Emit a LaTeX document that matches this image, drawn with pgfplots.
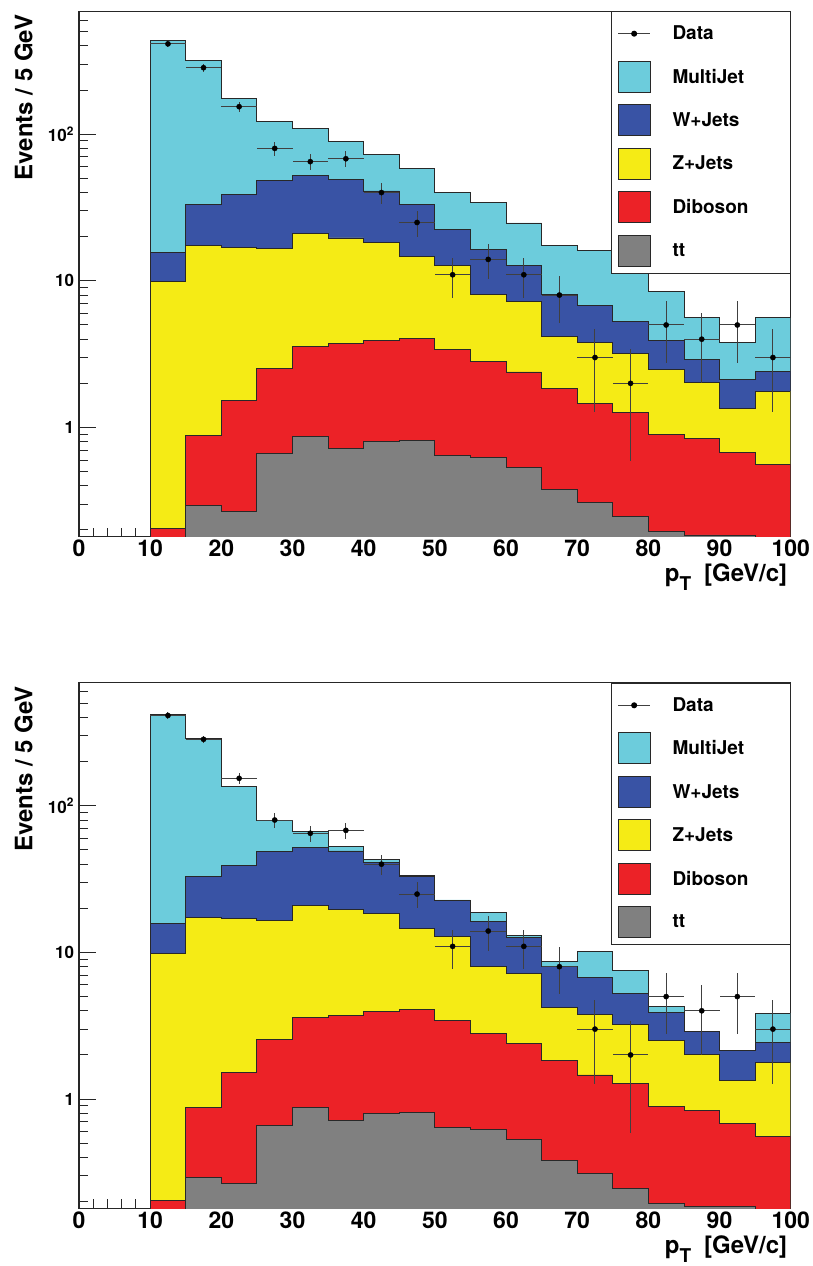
\documentclass[border=0pt]{standalone}
\usepackage{fontspec}
\setmainfont{TeX Gyre Heros}
\usepackage{pgfplots}
\usepackage{pgfplotstable}
\pgfplotsset{compat=1.18}
\definecolor{mjcol}{RGB}{108,204,220}
\definecolor{wcol}{RGB}{57,83,165}
\definecolor{zcol}{RGB}{245,235,21}
\definecolor{dbcol}{RGB}{236,34,39}
\definecolor{ttcol}{RGB}{128,128,128}
\definecolor{edge}{RGB}{40,40,40}
\newcommand\LE[1]{\makebox[111pt][l]{#1}}
\pgfplotsset{
  histo/.style={const plot, draw=edge, line width=0.9pt, fill=#1, forget plot, mark=none},
  sq/.style={legend image code/.code={\draw[fill=#1,draw=edge,line width=0.9pt] (0pt,-15.5pt) rectangle (31.7pt,15.5pt);}},
  dataleg/.style={legend image code/.code={\path[draw=none,fill=none] (0pt,-15.5pt) rectangle (31.7pt,15.5pt); \draw[black!75,line width=1pt] (0pt,0pt) -- (31.7pt,0pt); \fill[black] (15.85pt,0pt) circle (2.5pt);}},
  dataplot/.style={only marks, mark=*, mark size=2.6pt, black, forget plot,
    error bars/x dir=both, error bars/x explicit, error bars/y dir=both, error bars/y explicit,
    error bars/error mark=none,
    error bars/error bar style={line width=1pt, black!75}},
}
\pgfplotsset{
  rootaxis/.style={
    scale only axis, width=711.7pt, height=525.5pt, anchor=south west,
    xmin=0, xmax=100, ymin=0.18, ymax=690,
    xtick={0,10,20,30,40,50,60,70,80,90,100},
    xticklabels={0,10,20,30,40,50,60,70,80,90,100},
    minor x tick num=4,
    ytick={1,10,100}, yticklabels={1,10,10\textsuperscript{2}},
    minor ytick={0.2,0.3,0.4,0.5,0.6,0.7,0.8,0.9,2,3,4,5,6,7,8,9,20,30,40,50,60,70,80,90,200,300,400,500,600},
    tick pos=left, tick align=inside,
    major tick length=17pt, minor tick length=9pt,
    tick style={line width=1pt, draw=black!85},
    axis line style={line width=1.2pt, draw=black!85},
    xticklabel style={font=\bfseries\fontsize{23}{23}\selectfont},
    yticklabel style={font=\bfseries\fontsize{17}{17}\selectfont, xshift=-1.5pt},
    xlabel={p\raisebox{-9pt}{\fontsize{19}{19}\selectfont T}\hspace{13pt}[GeV/c]},
    xlabel style={at={(rel axis cs:1,0)}, anchor=base east, yshift=-45pt, font=\bfseries\fontsize{24}{24}\selectfont},
    ylabel={Events / 5 GeV},
    ylabel style={at={(rel axis cs:0,1)}, anchor=base east, yshift=46.7pt, font=\bfseries\fontsize{24}{24}\selectfont},
    legend style={at={(rel axis cs:1,1)}, anchor=north east, draw=edge, line width=1pt, fill=white,
      font=\bfseries\fontsize{19}{19}\selectfont, inner xsep=6.7pt, inner ysep=6.5pt,
      row sep=11.6pt, column sep=22pt, nodes={inner sep=0pt}},
    legend cell align=left,
  },
}
\pgfplotstableread{
x ex y ey
12.5 2.5 413 20.32
17.5 2.5 284 16.85
22.5 2.5 154 12.41
27.5 2.5 80 8.94
32.5 2.5 65 8.06
37.5 2.5 68 8.25
42.5 2.5 40 6.32
47.5 2.5 25 5.00
52.5 2.5 11 3.32
57.5 2.5 14 3.74
62.5 2.5 11 3.32
67.5 2.5 8 2.83
72.5 2.5 3 1.73
77.5 2.5 2 1.41
82.5 2.5 5 2.24
87.5 2.5 4 2.00
92.5 2.5 5 2.24
97.5 2.5 3 1.73
}\datatab
\begin{document}
\begin{tikzpicture}
\useasboundingbox (0,0) rectangle (813pt,1266pt);
% ---------------- top panel ----------------
\begin{axis}[ymode=log, rootaxis, at={(79pt,729.3pt)}]
\addlegendimage{dataleg}\addlegendentry{\LE{Data}}
\addlegendimage{sq=mjcol}\addlegendentry{\LE{MultiJet}}
\addlegendimage{sq=wcol}\addlegendentry{\LE{W+Jets}}
\addlegendimage{sq=zcol}\addlegendentry{\LE{Z+Jets}}
\addlegendimage{sq=dbcol}\addlegendentry{\LE{Diboson}}
\addlegendimage{sq=ttcol}\addlegendentry{\LE{tt}}
% MultiJet (stack total)
\addplot[histo=mjcol] coordinates {(10,0.1)(10,435)(15,318)(20,174)(25,123)(30,109)(35,89)(40,73)(45,58)(50,40.2)(55,34.4)(60,24.8)(65,17.5)(70,16.2)(75,13.0)(80,8.4)(85,5.6)(90,3.8)(95,5.6)(100,5.6)(100,0.1)};
% W+Jets
\addplot[histo=wcol] coordinates {(10,0.1)(10,15.7)(15,33.1)(20,38.9)(25,48.5)(30,52.2)(35,49.2)(40,41.0)(45,33.1)(50,22.5)(55,16.3)(60,12.7)(65,8.05)(70,6.8)(75,5.25)(80,3.9)(85,2.9)(90,2.13)(95,2.42)(100,2.42)(100,0.1)};
% Z+Jets
\addplot[histo=zcol] coordinates {(10,0.1)(10,9.9)(15,17.3)(20,17.0)(25,16.6)(30,20.9)(35,19.6)(40,18.4)(45,14.6)(50,12.8)(55,8.05)(60,7.2)(65,4.2)(70,3.8)(75,3.22)(80,2.5)(85,2.02)(90,1.34)(95,1.77)(100,1.77)(100,0.1)};
% Diboson
\addplot[histo=dbcol] coordinates {(10,0.1)(10,0.205)(15,0.88)(20,1.52)(25,2.54)(30,3.58)(35,3.74)(40,3.94)(45,4.06)(50,3.42)(55,2.80)(60,2.39)(65,1.84)(70,1.46)(75,1.27)(80,0.89)(85,0.84)(90,0.68)(95,0.56)(100,0.56)(100,0.1)};
% tt
\addplot[histo=ttcol] coordinates {(15,0.1)(15,0.294)(20,0.266)(25,0.665)(30,0.873)(35,0.715)(40,0.803)(45,0.81)(50,0.64)(55,0.62)(60,0.53)(65,0.38)(70,0.31)(75,0.247)(80,0.194)(85,0.185)(90,0.184)(95,0.184)(95,0.1)};
\addplot[dataplot] table[x=x, y=y, x error=ex, y error=ey] {\datatab};
\end{axis}
% ---------------- bottom panel ----------------
\begin{axis}[ymode=log, rootaxis, at={(79pt,57.7pt)}]
\addlegendimage{dataleg}\addlegendentry{\LE{Data}}
\addlegendimage{sq=mjcol}\addlegendentry{\LE{MultiJet}}
\addlegendimage{sq=wcol}\addlegendentry{\LE{W+Jets}}
\addlegendimage{sq=zcol}\addlegendentry{\LE{Z+Jets}}
\addlegendimage{sq=dbcol}\addlegendentry{\LE{Diboson}}
\addlegendimage{sq=ttcol}\addlegendentry{\LE{tt}}
\addplot[histo=mjcol] coordinates {(10,0.1)(10,421)(15,286)(20,136)(25,79.8)(30,67)(35,53)(40,43.3)(45,33.5)(50,22.8)(55,18.7)(60,13.0)(65,8.7)(70,10.1)(75,7.5)(80,4.3)(85,2.9)(90,2.13)(95,3.85)(100,3.85)(100,0.1)};
\addplot[histo=wcol] coordinates {(10,0.1)(10,15.7)(15,33.1)(20,38.9)(25,48.5)(30,52.2)(35,49.2)(40,41.0)(45,33.1)(50,22.5)(55,16.3)(60,12.7)(65,8.05)(70,6.8)(75,5.25)(80,3.9)(85,2.9)(90,2.13)(95,2.42)(100,2.42)(100,0.1)};
\addplot[histo=zcol] coordinates {(10,0.1)(10,9.9)(15,17.3)(20,17.0)(25,16.6)(30,20.9)(35,19.6)(40,18.4)(45,14.6)(50,12.8)(55,8.05)(60,7.2)(65,4.2)(70,3.8)(75,3.22)(80,2.5)(85,2.02)(90,1.34)(95,1.77)(100,1.77)(100,0.1)};
\addplot[histo=dbcol] coordinates {(10,0.1)(10,0.205)(15,0.88)(20,1.52)(25,2.54)(30,3.58)(35,3.74)(40,3.94)(45,4.06)(50,3.42)(55,2.80)(60,2.39)(65,1.84)(70,1.46)(75,1.27)(80,0.89)(85,0.84)(90,0.68)(95,0.56)(100,0.56)(100,0.1)};
\addplot[histo=ttcol] coordinates {(15,0.1)(15,0.294)(20,0.266)(25,0.665)(30,0.873)(35,0.715)(40,0.803)(45,0.81)(50,0.64)(55,0.62)(60,0.53)(65,0.38)(70,0.31)(75,0.247)(80,0.194)(85,0.185)(90,0.184)(95,0.184)(95,0.1)};
\addplot[dataplot] table[x=x, y=y, x error=ex, y error=ey] {\datatab};
\end{axis}
\end{tikzpicture}
\end{document}
